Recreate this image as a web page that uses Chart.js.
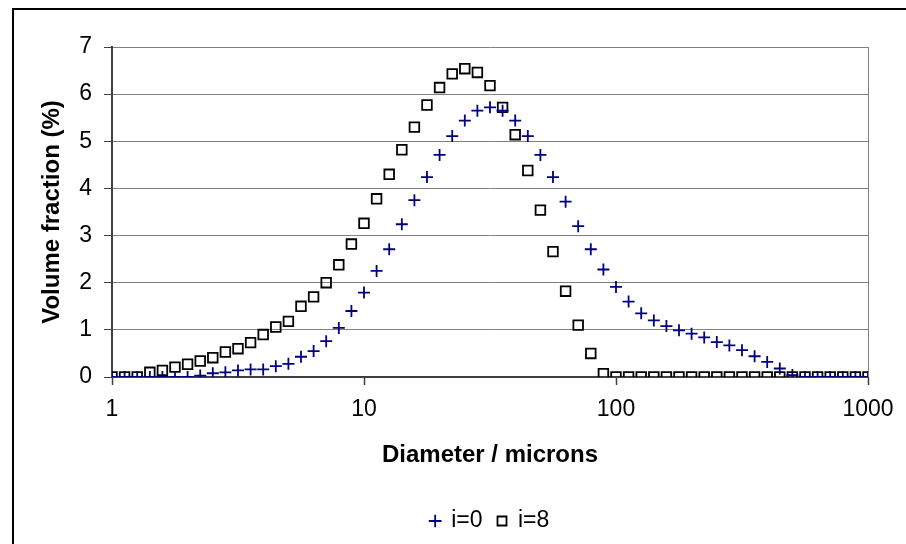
<!DOCTYPE html>
<html>
<head>
<meta charset="utf-8">
<script src="https://cdn.jsdelivr.net/npm/chart.js@4"></script>
<style>
  html, body { margin: 0; padding: 0; background: #fff; }
  #wrap { width: 906px; height: 544px; position: relative; }
</style>
</head>
<body>
<div id="wrap"><canvas id="sizeChart"></canvas></div>
<script>
// particle diameters (microns), 20 classes per decade
const diameters = [1, 1.122, 1.259, 1.413, 1.585, 1.778, 1.995, 2.239, 2.512, 2.818,
    3.162, 3.548, 3.981, 4.467, 5.012, 5.623, 6.31, 7.079, 7.943, 8.913,
    10, 11.22, 12.59, 14.13, 15.85, 17.78, 19.95, 22.39, 25.12, 28.18,
    31.62, 35.48, 39.81, 44.67, 50.12, 56.23, 63.1, 70.79, 79.43, 89.13,
    100, 112.2, 125.9, 141.3, 158.5, 177.8, 199.5, 223.9, 251.2, 281.8,
    316.2, 354.8, 398.1, 446.7, 501.2, 562.3, 631, 707.9, 794.3, 891.3, 1000];

// volume fraction (%) for i=0
const fracI0 = [0, 0, 0, 0, 0, 0, 0, 0.03, 0.08, 0.10,
    0.14, 0.16, 0.16, 0.23, 0.28, 0.43, 0.55, 0.76, 1.04, 1.40,
    1.79, 2.25, 2.71, 3.24, 3.75, 4.24, 4.71, 5.11, 5.44, 5.65,
    5.72, 5.65, 5.44, 5.11, 4.71, 4.24, 3.72, 3.20, 2.71, 2.28,
    1.91, 1.60, 1.35, 1.20, 1.08, 0.99, 0.92, 0.84, 0.74, 0.67,
    0.57, 0.44, 0.32, 0.18, 0.04, 0, 0, 0, 0, 0, 0];

// volume fraction (%) for i=8
const fracI8 = [0, 0, 0, 0.10, 0.14, 0.21, 0.27, 0.34, 0.41, 0.53,
    0.60, 0.73, 0.90, 1.06, 1.18, 1.50, 1.70, 2.00, 2.38, 2.82,
    3.26, 3.78, 4.30, 4.82, 5.30, 5.77, 6.14, 6.43, 6.54, 6.46,
    6.18, 5.72, 5.14, 4.38, 3.54, 2.66, 1.82, 1.10, 0.50, 0.07,
    0, 0, 0, 0, 0, 0, 0, 0, 0, 0,
    0, 0, 0, 0, 0, 0, 0, 0, 0, 0, 0];

const seriesLabels = ['i=0', 'i=8'];
const xTicks = [1, 10, 100, 1000];
const yTicks = [0, 1, 2, 3, 4, 5, 6, 7];

const FONT = '"Liberation Sans", Arial, sans-serif';

function toPoints(ys) {
    return diameters.map((d, i) => ({ x: d, y: ys[i] }));
}

// frame lines: outer box and right edge of plot area
const framePlugin = {
    id: 'frame',
    afterDraw(chart) {
        const ctx = chart.ctx;
        const a = chart.chartArea;
        ctx.save();
        ctx.strokeStyle = '#808080';
        ctx.lineWidth = 1;
        ctx.beginPath();
        ctx.moveTo(Math.round(a.right) + 0.5, a.top);
        ctx.lineTo(Math.round(a.right) + 0.5, a.bottom);
        ctx.stroke();
        ctx.strokeStyle = '#000';
        ctx.lineWidth = 2;
        ctx.strokeRect(13, 9, 1200, 1200);
        ctx.restore();
    }
};

const ctx = document.getElementById('sizeChart').getContext('2d');
new Chart(ctx, {
    type: 'scatter',
    data: {
        datasets: [{
            label: seriesLabels[0],
            data: toPoints(fracI0),
            pointStyle: 'cross',
            pointRadius: 6,
            pointHoverRadius: 6,
            borderColor: '#000080',
            backgroundColor: 'rgba(0,0,0,0)',
            borderWidth: 1.8,
            showLine: false
        }, {
            label: seriesLabels[1],
            data: toPoints(fracI8),
            pointStyle: 'rect',
            pointRadius: 6.8,
            pointHoverRadius: 6.8,
            borderColor: '#000000',
            backgroundColor: 'rgba(0,0,0,0)',
            borderWidth: 1.8,
            showLine: false
        }]
    },
    options: {
        responsive: true,
        maintainAspectRatio: false,
        animation: false,
        events: [],
        layout: { padding: { left: 30, top: 47, right: 38, bottom: 1.5 } },
        plugins: {
            tooltip: { enabled: false },
            legend: {
                position: 'bottom',
                fullSize: false,
                labels: {
                    usePointStyle: true,
                    boxWidth: 9,
                    boxHeight: 9,
                    padding: 15,
                    color: '#000',
                    font: { family: FONT, size: 23 }
                }
            }
        },
        scales: {
            x: {
                type: 'logarithmic',
                min: 1,
                max: 1000,
                afterBuildTicks: (s) => { s.ticks = xTicks.map(v => ({ value: v })); },
                afterFit: (s) => { s.height = 117.5; },
                ticks: {
                    color: '#000',
                    padding: 11,
                    maxRotation: 0,
                    autoSkip: false,
                    font: { family: FONT, size: 23 },
                    callback: (v) => String(v)
                },
                grid: {
                    drawOnChartArea: false,
                    drawTicks: true,
                    tickLength: 8,
                    tickColor: '#404040',
                    tickWidth: 1.5
                },
                border: { color: '#404040', width: 2 },
                title: {
                    display: true,
                    text: 'Diameter / microns',
                    color: '#000',
                    padding: { top: 0, bottom: 25 },
                    font: { family: FONT, size: 24, weight: 'bold' }
                }
            },
            y: {
                min: 0,
                max: 7,
                afterBuildTicks: (s) => { s.ticks = yTicks.map(v => ({ value: v })); },
                afterFit: (s) => { s.width = 82; },
                ticks: {
                    color: '#000',
                    padding: 12,
                    font: { family: FONT, size: 23 }
                },
                grid: {
                    color: '#808080',
                    lineWidth: 1,
                    tickLength: 8,
                    tickColor: '#404040'
                },
                border: { color: '#404040', width: 2 },
                title: {
                    display: true,
                    text: 'Volume fraction (%)',
                    color: '#000',
                    padding: { top: 8, bottom: 0 },
                    font: { family: FONT, size: 24, weight: 'bold' }
                }
            }
        }
    },
    plugins: [framePlugin]
});
</script>
</body>
</html>
